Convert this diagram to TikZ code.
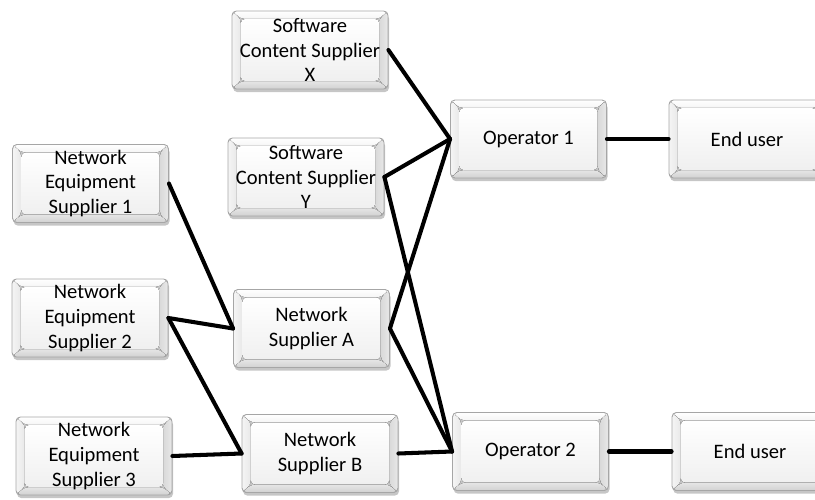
\documentclass[tikz,border=0pt]{standalone}
\usepackage{fontspec}
\setmainfont{Carlito}
\usetikzlibrary{calc,shadows}
\tikzset{
  bevelbox/.style={
    rectangle, rounded corners=2.5pt, draw=gray!70, line width=0.5pt,
    minimum width=3.12cm, minimum height=1.56cm, inner sep=0pt,
    align=center, font=\fontsize{11.7}{14}\selectfont,
    drop shadow={shadow xshift=0.6pt, shadow yshift=-1.8pt, opacity=0.45, fill=gray},
    path picture={
      \coordinate (bsw) at (path picture bounding box.south west);
      \coordinate (bne) at (path picture bounding box.north east);
      \coordinate (bnw) at (bsw|-bne);
      \coordinate (bse) at (bne|-bsw);
      \coordinate (isw) at ($(bsw)+(5pt,4.5pt)$);
      \coordinate (ine) at ($(bne)+(-5pt,-4.5pt)$);
      \coordinate (inw) at (isw|-ine);
      \coordinate (ise) at (ine|-isw);
      \fill[top color=white, bottom color=gray!8] (bnw) -- (bne) -- (ine) -- (inw) -- cycle;
      \fill[left color=gray!8, right color=gray!18] (bnw) -- (inw) -- (isw) -- (bsw) -- cycle;
      \fill[left color=gray!30, right color=gray!18] (bne) -- (bse) -- (ise) -- (ine) -- cycle;
      \fill[top color=gray!20, bottom color=gray!36] (bsw) -- (bse) -- (ise) -- (isw) -- cycle;
      \fill[top color=white, bottom color=gray!12] (isw) rectangle (ine);
    }
  },
  link/.style={line width=2.3pt, line cap=round}
}
\begin{document}
\begin{tikzpicture}[x=0.02cm, y=-0.02cm]
\useasboundingbox (0,0) rectangle (815,500);

\node[bevelbox] (sx)  at (310,50)    {Software\\Content Supplier\\X};
\node[bevelbox] (sy)  at (306,177)   {Software\\Content Supplier\\Y};
\node[bevelbox] (op1) at (528.5,139) {Operator 1};
\node[bevelbox] (eu1) at (747,139)   {End user};
\node[bevelbox] (ne1) at (90.5,183.5){Network\\Equipment\\Supplier 1};
\node[bevelbox] (ne2) at (90,318)    {Network\\Equipment\\Supplier 2};
\node[bevelbox] (nsa) at (311.5,328.5){Network\\Supplier A};
\node[bevelbox] (ne3) at (94,456)    {Network\\Equipment\\Supplier 3};
\node[bevelbox] (nsb) at (320,453.5) {Network\\Supplier B};
\node[bevelbox] (op2) at (530.5,451.5){Operator 2};
\node[bevelbox] (eu2) at (750,451.5) {End user};

\draw[link] (sx.east)  -- (op1.west);
\draw[link] (sy.east)  -- (op1.west);
\draw[link] (sy.east)  -- (op2.west);
\draw[link] (nsa.east) -- (op1.west);
\draw[link] (nsa.east) -- (op2.west);
\draw[link] (ne1.east) -- (nsa.west);
\draw[link] (ne2.east) -- (nsa.west);
\draw[link] (ne2.east) -- (nsb.west);
\draw[link] (ne3.east) -- (nsb.west);
\draw[link] (nsb.east) -- (op2.west);
\draw[link] (op1.east) -- (eu1.west);
\draw[link] (op2.east) -- (eu2.west);
\end{tikzpicture}
\end{document}
